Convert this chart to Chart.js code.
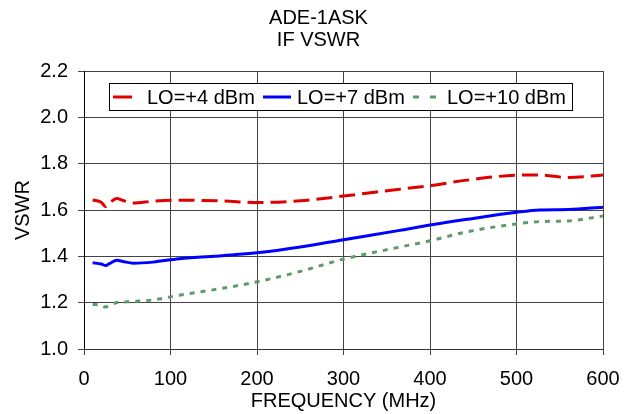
<!DOCTYPE html>
<html>
<head>
<meta charset="utf-8">
<title>ADE-1ASK IF VSWR</title>
<script src="https://cdn.jsdelivr.net/npm/chart.js@4/dist/chart.umd.min.js"></script>
<style>
  html, body { margin: 0; padding: 0; background: #fff; }
  #wrap { width: 637px; height: 414px; }
</style>
</head>
<body>
<div id="wrap"><canvas id="vswrChart" width="637" height="414"></canvas></div>
<script>
// Chart data
const titleLines = ['ADE-1ASK', 'IF VSWR'];
const freqMHz = [10, 20, 25, 30, 38, 45, 57, 80, 110, 160, 200, 250, 300, 365, 400, 443, 500, 527, 560, 600];
const vswrLo4 = [1.643, 1.633, 1.614, 1.632, 1.650, 1.641, 1.630, 1.638, 1.642, 1.639, 1.632, 1.640, 1.660, 1.690, 1.705, 1.729, 1.750, 1.751, 1.740, 1.751];
const vswrLo7 = [1.372, 1.367, 1.360, 1.370, 1.383, 1.378, 1.370, 1.375, 1.390, 1.403, 1.415, 1.440, 1.472, 1.512, 1.535, 1.560, 1.590, 1.600, 1.602, 1.612];
const vswrLo10 = [1.193, 1.188, 1.181, 1.190, 1.201, 1.203, 1.205, 1.212, 1.232, 1.262, 1.290, 1.335, 1.388, 1.440, 1.467, 1.506, 1.540, 1.550, 1.553, 1.574];
const seriesLabels = ['LO=+4 dBm', 'LO=+7 dBm', 'LO=+10 dBm'];
const xTicks = [0, 100, 200, 300, 400, 500, 600];
const yTicks = [1.0, 1.2, 1.4, 1.6, 1.8, 2.0, 2.2];

const FONT = "'Liberation Sans', Arial, sans-serif";

const toPoints = (ys) => ys.map((y, i) => ({ x: freqMHz[i], y: y }));

// Two-line title centred on the canvas
const titlePlugin = {
    id: 'twoLineTitle',
    afterDraw(chart) {
        const ctx = chart.ctx;
        ctx.save();
        ctx.fillStyle = '#000';
        ctx.font = '20px ' + FONT;
        ctx.textAlign = 'center';
        ctx.textBaseline = 'alphabetic';
        ctx.fillText(titleLines[0], chart.width / 2, 24);
        ctx.fillText(titleLines[1], chart.width / 2, 46);
        ctx.restore();
    }
};

// Boxed legend inside the plot area, Excel style
const boxLegendPlugin = {
    id: 'boxLegend',
    afterDatasetsDraw(chart) {
        const ctx = chart.ctx;
        const area = chart.chartArea;
        const boxX = area.left + 25, boxY = area.top + 12, boxW = 463, boxH = 27;
        ctx.save();
        ctx.fillStyle = '#fff';
        ctx.fillRect(boxX, boxY, boxW, boxH);
        ctx.strokeStyle = '#000';
        ctx.lineWidth = 1;
        ctx.strokeRect(boxX + 0.5, boxY + 0.5, boxW, boxH);

        const midY = boxY + boxH / 2 + 0.5;
        chart.data.datasets.forEach((ds, i) => {
            const x0 = boxX + 4 + i * 150;
            ctx.beginPath();
            ctx.strokeStyle = ds.borderColor;
            ctx.lineWidth = ds.borderWidth;
            ctx.setLineDash(ds.legendDash || []);
            ctx.moveTo(x0, midY);
            ctx.lineTo(x0 + ds.legendLen, midY);
            ctx.stroke();
            ctx.setLineDash([]);
            ctx.fillStyle = '#000';
            ctx.font = '20px ' + FONT;
            ctx.textAlign = 'left';
            ctx.textBaseline = 'middle';
            ctx.fillText(ds.label, x0 + 34, midY + 1);
        });
        ctx.restore();
    }
};

new Chart(document.getElementById('vswrChart'), {
    type: 'line',
    data: {
        datasets: [
            {
                label: seriesLabels[0],
                data: toPoints(vswrLo4),
                borderColor: '#e00000',
                borderWidth: 3,
                borderDash: [16, 7],
                legendDash: [],
                legendLen: 19
            },
            {
                label: seriesLabels[1],
                data: toPoints(vswrLo7),
                borderColor: '#0000ff',
                borderWidth: 3,
                legendLen: 28
            },
            {
                label: seriesLabels[2],
                data: toPoints(vswrLo10),
                borderColor: '#5f9a6c',
                borderWidth: 3,
                borderDash: [5, 6],
                legendDash: [6, 11],
                legendLen: 23
            }
        ]
    },
    options: {
        responsive: false,
        animation: false,
        layout: { padding: { top: 71, right: 34, bottom: 0, left: 0 } },
        elements: {
            point: { radius: 0 },
            line: { cubicInterpolationMode: 'monotone', fill: false }
        },
        plugins: {
            legend: { display: false },
            title: { display: false },
            tooltip: { enabled: false }
        },
        scales: {
            x: {
                type: 'linear',
                min: 0,
                max: 600,
                afterBuildTicks: (scale) => { scale.ticks = xTicks.map(v => ({ value: v })); },
                afterFit: (scale) => { scale.height = 65; },
                grid: { color: '#444', tickLength: 6, drawTicks: true },
                border: { color: '#333', width: 1 },
                ticks: {
                    color: '#000',
                    padding: 12,
                    font: { size: 20, family: FONT },
                    maxRotation: 0
                },
                title: {
                    display: true,
                    text: 'FREQUENCY (MHz)',
                    color: '#000',
                    font: { size: 20, family: FONT },
                    padding: { top: 0, bottom: 1 }
                }
            },
            y: {
                min: 1.0,
                max: 2.2,
                afterBuildTicks: (scale) => { scale.ticks = yTicks.map(v => ({ value: v })); },
                afterFit: (scale) => { scale.width = 84; },
                grid: { color: '#444', tickLength: 6, drawTicks: true },
                border: { color: '#000', width: 1 },
                ticks: {
                    color: '#000',
                    padding: 10,
                    font: { size: 20, family: FONT },
                    callback: (v) => v.toFixed(1)
                },
                title: {
                    display: true,
                    text: 'VSWR',
                    color: '#000',
                    font: { size: 20, family: FONT },
                    padding: { top: 11, bottom: 11 }
                }
            }
        }
    },
    plugins: [titlePlugin, boxLegendPlugin]
});
</script>
</body>
</html>
